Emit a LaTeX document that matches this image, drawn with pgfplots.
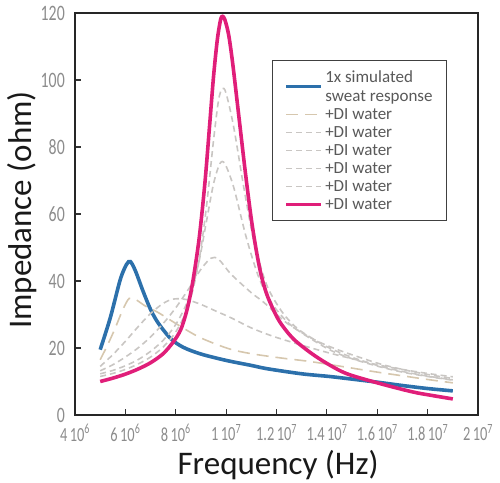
\documentclass[border=0pt]{standalone}
\usepackage{fontspec}
\setmainfont{Carlito}
\usepackage{graphicx}
\usepackage{pgfplots}
\pgfplotsset{compat=1.18}
\definecolor{sweatblue}{HTML}{2C70AB}
\definecolor{dipink}{HTML}{E01E79}
\definecolor{dgrey}{HTML}{C9C6C3}
\definecolor{dbeige}{HTML}{D6C7AE}
\definecolor{ticktext}{HTML}{8C8C8C}
% tick labels in the chart are narrow, so squeeze them
\newcommand{\cnd}[1]{\scalebox{0.72}[1]{#1}}
\newcommand{\xt}[2]{\cnd{#1\,10\textsuperscript{#2}}}

\begin{document}
\begin{tikzpicture}
\useasboundingbox (-75pt,-67pt) rectangle (425pt,415pt);
\begin{axis}[
  at={(0pt,0pt)}, anchor=south west,
  scale only axis, width=403pt, height=402pt,
  xmin=4, xmax=20, ymin=0, ymax=120,
  axis line style={line width=2pt, black!85},
  tick align=inside, xtick pos=left, ytick pos=left,
  major tick length=6pt,
  tick style={line width=1.2pt, black!80},
  xtick={4,6,8,10,12,14,16,18,20},
  xticklabels={\xt{4}{6},\xt{6}{6},\xt{8}{6},\xt{1}{7},\xt{1.2}{7},\xt{1.4}{7},\xt{1.6}{7},\xt{1.8}{7},\xt{2}{7}},
  ytick={0,20,40,60,80,100,120},
  yticklabels={\cnd{0},\cnd{20},\cnd{40},\cnd{60},\cnd{80},\cnd{100},\cnd{120}},
  xticklabel style={font=\fontsize{20}{22}\selectfont, text=ticktext, inner sep=1pt, yshift=-8pt},
  yticklabel style={font=\fontsize{22}{24}\selectfont, text=ticktext, inner sep=1pt, xshift=-9pt},
  xlabel={Frequency (Hz)},
  ylabel={Impedance (ohm)},
  xlabel style={at={(axis description cs:0.504,-0.124)}, anchor=center, font=\fontsize{33}{36}\selectfont, text=black!90},
  ylabel style={at={(axis description cs:-0.132,0.51)}, anchor=center, font=\fontsize{33}{36}\selectfont, text=black!90},
  legend style={at={(0.489,0.883)}, anchor=north west, draw=black!75, line width=1.2pt, fill=white,
    font=\fontsize{17}{19}\selectfont, text=black!65,
    nodes={align=left, inner ysep=2.8pt, inner xsep=2pt}, inner xsep=12pt, inner ysep=7pt},
  legend cell align=left,
  legend image code/.code={\draw[#1] (0pt,0pt) -- (35pt,0pt);},
  every axis plot/.append style={smooth, tension=0.5},
]
\addplot[sweatblue, line width=3.6pt] coordinates {
 (5.0,19.5)(5.4,29)(5.8,40.5)(6.05,45)(6.2,45.8)(6.4,43)(6.7,37)(7.0,31.5)(7.3,27.5)
 (7.8,22.8)(8.3,20.2)(9.0,18.2)(10.0,16.3)(11.0,14.8)(11.64,13.8)(13.0,12.3)(14.1,11.5)
 (14.9,10.8)(16.0,9.8)(17.0,8.8)(18.0,7.9)(19.0,7.2)};
\addplot[dbeige, line width=1.6pt, dash pattern=on 12pt off 7pt] coordinates {
 (5.0,16.5)(5.3,21)(5.6,26)(5.9,31.5)(6.15,34.8)(6.4,34.5)(6.8,32.5)(7.3,30.6)(8.2,26.4)
 (9.0,23)(10.1,19.8)(11.0,18.3)(12.2,17)(13.3,16)(14.5,14.6)(16.0,12.8)(17.0,11.7)(18.0,10.6)(19.0,9.6)};
\addplot[dgrey, line width=1.6pt, dash pattern=on 6pt off 4pt] coordinates {
 (5.0,14.5)(5.5,18)(6.0,22)(6.5,26.3)(7.0,30.3)(7.5,33.3)(7.9,34.6)(8.4,34.5)(9.0,33)(9.6,31)
 (10.2,29)(11.0,26)(11.9,23.4)(13.2,20.4)(14.1,18.5)(15.0,16.8)(16.0,15)(17.0,13.6)(18.0,12.4)(19.0,11.4)};
\addplot[dgrey, line width=1.6pt, dash pattern=on 6pt off 4pt] coordinates {
 (5.0,13.2)(5.5,15)(6.0,17.3)(6.5,20)(7.0,23.3)(7.5,27.3)(8.0,32)(8.5,37.5)(9.0,43.5)(9.4,46.8)
 (9.7,46.5)(10.2,42)(11.0,36.5)(11.5,33.6)(12.4,27.5)(13.5,22.5)(14.5,19.3)(16.0,15.5)(17.0,13.6)(18.0,12.1)(19.0,10.9)};
\addplot[dgrey, line width=1.6pt, dash pattern=on 6pt off 4pt] coordinates {
 (5.0,12.3)(5.5,13.3)(6.0,14.7)(6.5,16.5)(7.0,19)(7.5,22.3)(8.0,27)(8.5,34.5)(8.9,45)(9.2,57)
 (9.5,69)(9.75,75)(9.95,75)(10.3,68)(10.8,53)(11.3,41)(11.8,33.5)(12.4,28)(13.0,24.5)(14.1,19.5)
 (15.0,16.8)(16.1,14.4)(17.0,12.8)(18.0,11.5)(19.0,10.4)};
\addplot[dgrey, line width=1.6pt, dash pattern=on 6pt off 4pt] coordinates {
 (5.0,11.5)(5.5,12.4)(6.0,13.6)(6.5,15.2)(7.0,17.3)(7.5,20.3)(8.0,24.8)(8.5,32.5)(8.9,45)(9.2,61)
 (9.5,82)(9.7,94)(9.85,97.5)(10.0,96)(10.3,86)(10.7,68)(11.1,52)(11.6,39)(12.2,31)(12.8,26)
 (13.5,22.5)(14.1,20)(15.0,17.2)(16.1,14.6)(17.0,13)(18.0,11.6)(19.0,10.5)};
\addplot[dipink, line width=3.6pt] coordinates {
 (5.0,10.0)(5.5,11.0)(6.0,12.2)(6.5,13.7)(7.0,15.6)(7.5,18.3)(7.9,21.8)(8.2,25.5)(8.45,31.5)
 (8.67,39.5)(8.9,51)(9.05,61)(9.19,72)(9.35,87)(9.5,101)(9.65,112)(9.78,118)(9.86,119)(9.95,118)
 (10.1,113.5)(10.26,105)(10.5,89.5)(10.77,72)(11.0,58.5)(11.2,49)(11.4,41.5)(11.64,35.5)(12.0,29.5)
 (12.28,26.2)(12.7,22.5)(13.35,18.6)(14.0,15.4)(14.8,12.3)(16.1,9.4)(17.4,6.9)(18.2,5.8)(19.0,4.8)};
\legend{{1x simulated\\sweat response},+DI water,+DI water,+DI water,+DI water,+DI water,+DI water}
\end{axis}
\end{tikzpicture}
\end{document}
